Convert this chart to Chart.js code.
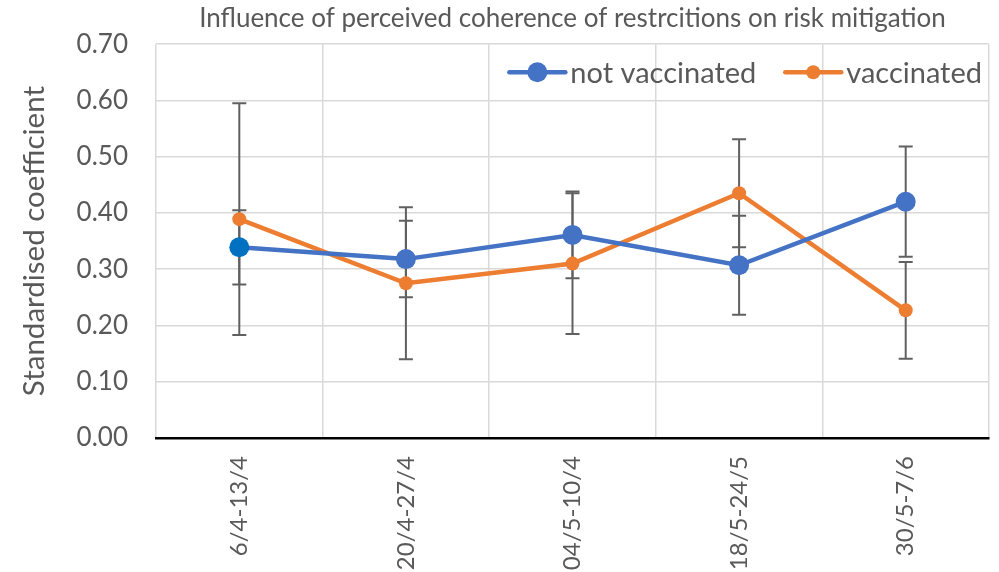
<!DOCTYPE html>
<html>
<head>
<meta charset="utf-8">
<script src="https://cdn.jsdelivr.net/npm/chart.js@4.4.1/dist/chart.umd.min.js"></script>
<style>
  html, body { margin: 0; padding: 0; background: #ffffff; }
  canvas { display: block; }
</style>
</head>
<body>
<canvas id="chart" width="999" height="572"></canvas>
<script>
// Survey waves (x categories)
const categories = ['6/4-13/4', '20/4-27/4', '04/5-10/4', '18/5-24/5', '30/5-7/6'];

// Standardised coefficients and their error margins (+/-)
const notVaccinated    = [0.339, 0.318, 0.361, 0.307, 0.420];
const notVaccinatedErr = [0.066, 0.068, 0.077, 0.088, 0.098];
const vaccinated       = [0.389, 0.275, 0.310, 0.435, 0.227];
const vaccinatedErr    = [0.206, 0.135, 0.125, 0.096, 0.086];

// Y axis range
const yMin = 0, yMax = 0.7, yStep = 0.1;

const FONT = 'Lato, "Open Sans", sans-serif';
const TEXT = '#595959';

// Vertical error bars with caps, drawn under the lines and markers
const errorBars = {
  id: 'errorBars',
  beforeDatasetsDraw(chart) {
    const { ctx, scales: { y } } = chart;
    ctx.save();
    ctx.strokeStyle = '#606060';
    ctx.lineWidth = 2;
    chart.data.datasets.forEach((ds, i) => {
      const meta = chart.getDatasetMeta(i);
      ds.errors.forEach((e, j) => {
        const px = meta.data[j].x;
        const top = y.getPixelForValue(ds.data[j] + e);
        const bot = y.getPixelForValue(ds.data[j] - e);
        ctx.beginPath();
        ctx.moveTo(px, top); ctx.lineTo(px, bot);
        ctx.moveTo(px - 7, top); ctx.lineTo(px + 7, top);
        ctx.moveTo(px - 7, bot); ctx.lineTo(px + 7, bot);
        ctx.stroke();
      });
    });
    ctx.restore();
  }
};

// Legend placed inside the plot, top-right
const insideLegend = {
  id: 'insideLegend',
  afterDraw(chart) {
    const { ctx, chartArea } = chart;
    ctx.save();
    ctx.font = '29px ' + FONT;
    ctx.textBaseline = 'middle';
    ctx.textAlign = 'left';
    const cy = chartArea.top + 28;
    const lineLen = 56, gapText = 5, gapItem = 29;
    const items = chart.data.datasets.map(ds => ({
      label: ds.label, color: ds.borderColor, r: ds.pointRadius,
      w: ctx.measureText(ds.label).width
    }));
    let total = 0;
    items.forEach((it, k) => { total += lineLen + gapText + it.w + (k ? gapItem : 0); });
    let x = chartArea.right - 7 - total;
    items.forEach((it, k) => {
      if (k) x += gapItem;
      ctx.strokeStyle = it.color;
      ctx.lineWidth = 4.5;
      ctx.lineCap = 'round';
      ctx.beginPath(); ctx.moveTo(x, cy); ctx.lineTo(x + lineLen, cy); ctx.stroke();
      ctx.fillStyle = it.color;
      ctx.beginPath(); ctx.arc(x + lineLen / 2, cy, it.r, 0, Math.PI * 2); ctx.fill();
      x += lineLen + gapText;
      ctx.fillStyle = TEXT;
      ctx.fillText(it.label, x, cy + 1);
      x += it.w;
    });
    ctx.restore();
  }
};

new Chart(document.getElementById('chart'), {
  type: 'line',
  data: {
    labels: categories,
    datasets: [
      {
        label: 'not vaccinated',
        data: notVaccinated,
        errors: notVaccinatedErr,
        borderColor: '#4472C4',
        backgroundColor: '#4472C4',
        pointBackgroundColor: ['#0070C0', '#4472C4', '#4472C4', '#4472C4', '#4472C4'],
        pointBorderWidth: 0,
        pointRadius: 10,
        borderWidth: 4.5,
        tension: 0
      },
      {
        label: 'vaccinated',
        data: vaccinated,
        errors: vaccinatedErr,
        borderColor: '#ED7D31',
        backgroundColor: '#ED7D31',
        pointBackgroundColor: '#ED7D31',
        pointBorderWidth: 0,
        pointRadius: 7,
        borderWidth: 4.5,
        tension: 0
      }
    ]
  },
  options: {
    responsive: false,
    animation: false,
    devicePixelRatio: 1,
    layout: { padding: { left: 0, right: 9, top: 0, bottom: 0 } },
    plugins: {
      legend: { display: false },
      tooltip: { enabled: false },
      title: {
        display: true,
        fullSize: false,
        text: 'Influence of perceived coherence of restrcitions on risk mitigation',
        color: TEXT,
        font: { family: FONT, size: 26, weight: 'normal' },
        padding: { top: 3, bottom: 10 }
      }
    },
    scales: {
      x: {
        type: 'category',
        offset: true,
        grid: { offset: true, color: '#d9d9d9', lineWidth: 1.5, drawTicks: false },
        border: { display: true, color: '#000000', width: 2.5 },
        ticks: {
          autoSkip: false, minRotation: 90, maxRotation: 90,
          padding: 18, color: TEXT,
          font: { family: FONT, size: 24 }
        },
        afterFit(scale) { scale.height = 134; }
      },
      y: {
        min: yMin, max: yMax,
        grid: { color: '#d9d9d9', lineWidth: 1.5, drawTicks: false },
        border: { display: false },
        ticks: {
          stepSize: yStep, padding: 28, color: TEXT,
          font: { family: FONT, size: 26 },
          callback: v => Number(v).toFixed(2)
        },
        title: {
          display: true, text: 'Standardised coefficient', color: TEXT,
          font: { family: FONT, size: 29.5 },
          padding: { top: 17, bottom: 0 }
        },
        afterFit(scale) { scale.width = 156; }
      }
    }
  },
  plugins: [errorBars, insideLegend]
});
</script>
</body>
</html>
